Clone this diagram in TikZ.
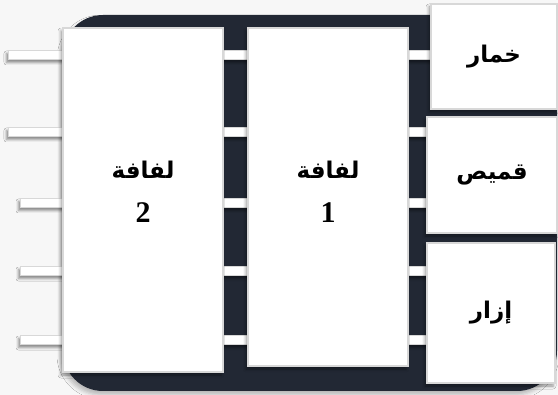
\documentclass[tikz,border=0pt]{standalone}
\usepackage{fontspec}
\setmainfont{Liberation Serif}
\newfontfamily\arabicfont[Script=Arabic]{DejaVu Sans}
\TeXXeTstate=1
\usetikzlibrary{shadows.blur}
\definecolor{pagebg}{HTML}{F7F7F7}
\definecolor{darkbg}{HTML}{222834}
\definecolor{boxline}{HTML}{D8D8D8}
\tikzset{
  darkpanel/.style={fill=darkbg, rounded corners=40pt, inner sep=0pt,
    blur shadow={shadow xshift=-2pt, shadow yshift=-4pt, shadow opacity=25, shadow blur radius=4pt}},
  bar/.style={fill=white, draw=boxline, line width=1pt, minimum height=9pt, inner sep=0pt, anchor=west,
    blur shadow={shadow xshift=-2pt, shadow yshift=-3pt, shadow opacity=45, shadow blur radius=2.5pt}},
  wbox/.style={fill=white, draw=boxline, line width=1.5pt, inner sep=0pt, align=center,
    font=\fontsize{23}{28}\selectfont,
    blur shadow={shadow xshift=-2pt, shadow yshift=-3pt, shadow opacity=40, shadow blur radius=3pt}},
  wraplabel/.style={font=\fontsize{23}{28}\selectfont, align=center, inner sep=0pt},
}
\newcommand{\ar}[1]{{\arabicfont\bfseries\beginR #1\endR}}
\newcommand{\bignum}[1]{{\fontsize{30}{30}\selectfont\bfseries #1}}
\begin{document}
\begin{tikzpicture}[x=1pt,y=-1pt]
\useasboundingbox (0,0) rectangle (558,395);
\fill[pagebg] (0,0) rectangle (558,395);
\node[darkpanel, minimum width=494pt, minimum height=376pt] (panel) at (310,203) {};
\node[bar, minimum width=424pt] (bar1) at (8,55) {};
\node[bar, minimum width=424pt] (bar2) at (8,132) {};
\node[bar, minimum width=410pt] (bar3) at (20,203) {};
\node[bar, minimum width=410pt] (bar4) at (20,271) {};
\node[bar, minimum width=410pt] (bar5) at (20,340) {};
\node[wbox, minimum width=160pt, minimum height=344pt,
  label={[wraplabel, yshift=8pt]center:\ar{لفافة}\\[16pt]\bignum{2}}] (lf2) at (143,200) {};
\node[wbox, minimum width=160pt, minimum height=338pt,
  label={[wraplabel, yshift=5pt]center:\ar{لفافة}\\[16pt]\bignum{1}}] (lf1) at (328,197) {};
\node[wbox, minimum width=126pt, minimum height=105pt] (khimar) at (494,56.5) {\ar{خمار}};
\node[wbox, minimum width=130pt, minimum height=116pt] (qamis) at (492,175) {\ar{قميص}};
\node[wbox, minimum width=128pt, minimum height=140pt] (izar) at (491,313) {\ar{إزار}};
\end{tikzpicture}
\end{document}
